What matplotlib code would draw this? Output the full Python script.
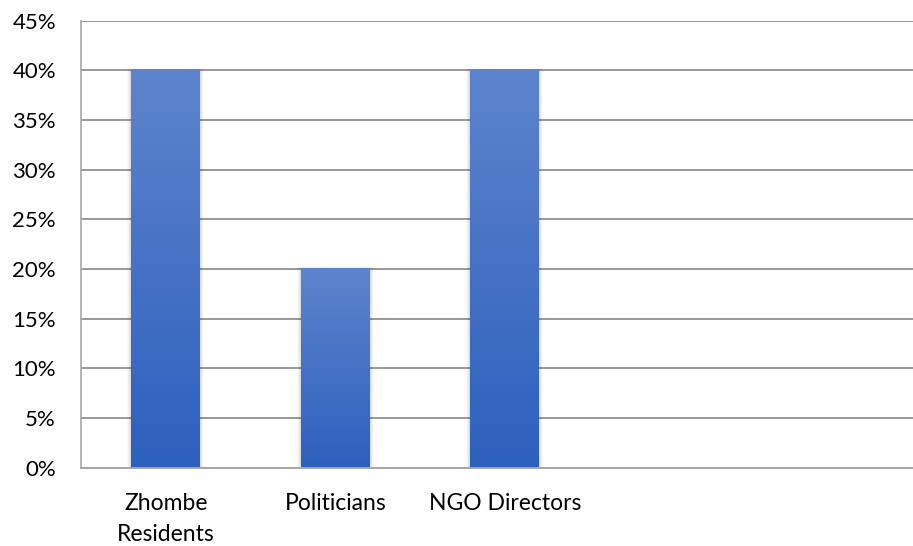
import numpy as np
import matplotlib.pyplot as plt
from matplotlib.colors import LinearSegmentedColormap
from matplotlib.patches import Rectangle

categories = ['Zhombe\nResidents', 'Politicians', 'NGO Directors']
shares = [40, 20, 40]
yticks = [0, 5, 10, 15, 20, 25, 30, 35, 40, 45]

plt.rcParams['font.family'] = ['Lato', 'DejaVu Sans']

fig = plt.figure(figsize=(9.13, 5.46), dpi=100)
ax = fig.add_axes([81 / 913, 1 - 467.5 / 546, 1 - 81 / 913, (467.5 - 20.7) / 546])

x = np.arange(len(categories))
bars = ax.bar(x, shares, width=0.405, color='none', zorder=3)

cmap = LinearSegmentedColormap.from_list('bar', ['#2d60bd', '#5d84cd'])
grad = np.linspace(0, 1, 256).reshape(-1, 1)
for b in bars:
    x0, w, h = b.get_x(), b.get_width(), b.get_height()
    # soft shadow around the bar
    for k, a in enumerate([0.05, 0.04, 0.03, 0.02]):
        d = 0.006 * (k + 1)
        ax.add_patch(Rectangle((x0 - d, 0), w + 2 * d, h + d * 8, color='k',
                               alpha=a, lw=0, zorder=2))
    ax.imshow(grad, cmap=cmap, origin='lower', aspect='auto',
              extent=[x0, x0 + w, 0, h], zorder=3)

ax.set_xlim(-0.5, -0.5 + (913 - 81) / 169.5)
ax.set_ylim(0, 45)
ax.set_yticks(yticks)
ax.set_yticklabels([f'{v}%' for v in yticks])
ax.set_xticks(x)
ax.set_xticklabels(categories, linespacing=1.6)

ax.grid(axis='y', color='#999999', linewidth=1.4, zorder=1)
for s in ['top', 'right']:
    ax.spines[s].set_visible(False)
ax.spines['left'].set_color('#a6a6a6')
ax.spines['bottom'].set_color('#a6a6a6')
ax.spines['left'].set_linewidth(1.2)
ax.spines['bottom'].set_linewidth(1.4)
ax.tick_params(axis='both', length=0, labelsize=16, colors='#000000')
ax.tick_params(axis='x', labelsize=16.5)
ax.tick_params(axis='y', pad=18)
ax.tick_params(axis='x', pad=18)

ax.set_facecolor('white')
fig.savefig('out.png', dpi=100)
